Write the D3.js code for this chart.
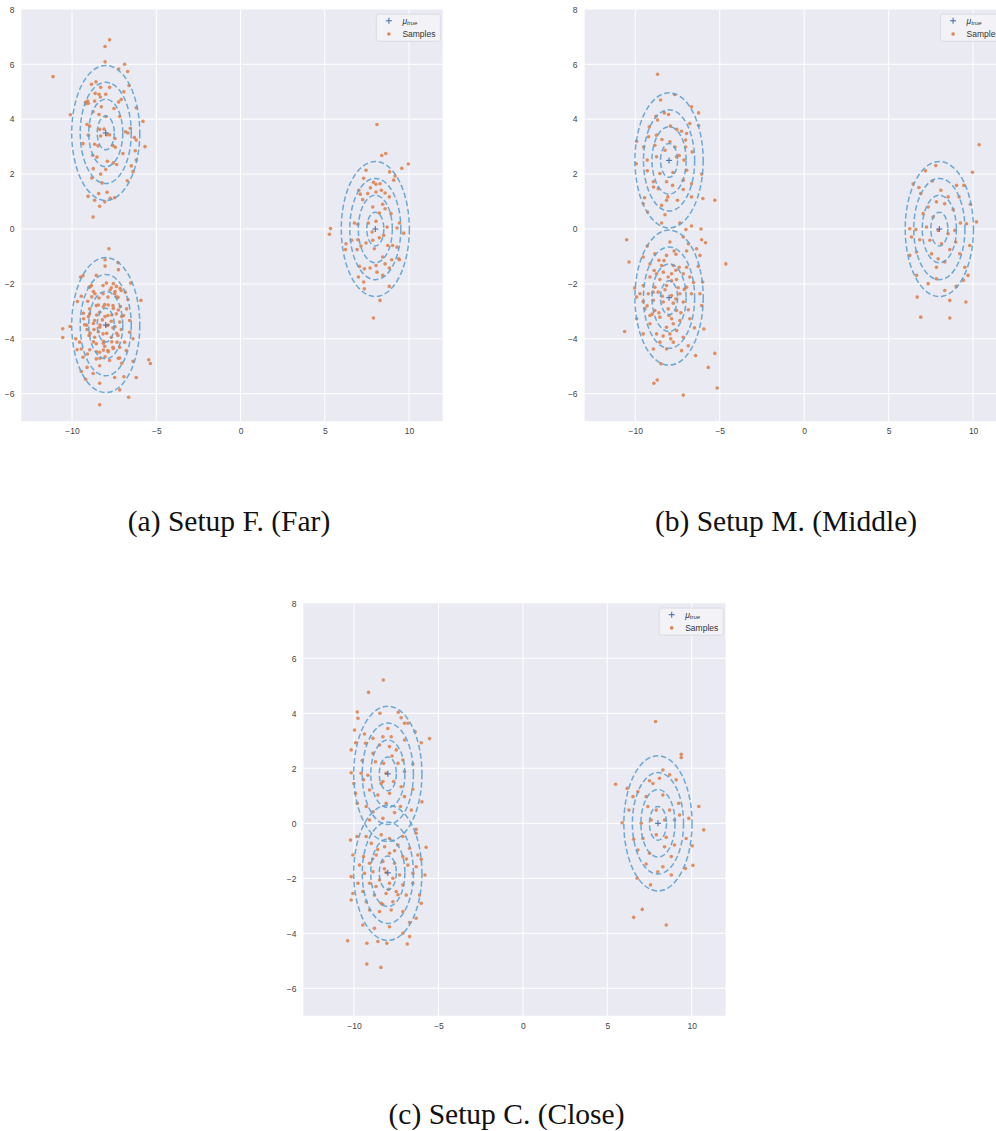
<!DOCTYPE html>
<html>
<head>
<meta charset="utf-8">
<script src="https://cdn.jsdelivr.net/npm/d3@7"></script>
<style>
  html, body { margin: 0; padding: 0; background: #ffffff; }
  svg { display: block; }
</style>
</head>
<body>
<svg id="chart" width="996" height="1131"></svg>
<script>
// ---------------- data ----------------
const xTicks = [-10, -5, 0, 5, 10];
const yTicks = [-6, -4, -2, 0, 2, 4, 6, 8];
const xDomain = [-13, 12];
const yDomain = [-7, 8];
const captions = ["(a) Setup F. (Far)", "(b) Setup M. (Middle)", "(c) Setup C. (Close)"];
const legendLabels = ["Samples"];

const meansF = [[-8, 3.5], [-8, -3.5], [8, 0]];
const meansM = [[-8, 2.5], [-8, -2.5], [8, 0]];
const meansC = [[-8, 1.8], [-8, -1.8], [8, 0]];

// contour levels (multiples of the base semi-axes, in data units)
const contourLevels = [1, 2, 3, 4];
const contourSemiX = 0.505;
const contourSemiY = 0.615;

const samplesF = [
  // upper left
  [-7.77,6.89],[-8.04,6.65],[-8.04,6.09],[-11.13,5.55],[-6.88,6.0],[-7.23,5.83],[-6.70,5.74],[-8.58,5.36],[-8.85,5.27],[-8.30,5.16],
  [-7.77,5.16],[-6.62,5.23],[-6.92,5.0],[-8.40,4.91],[-8.0,4.91],[-8.32,4.81],[-9.07,4.66],[-9.17,4.56],[-8.66,4.66],[-7.23,4.63],
  [-7.08,4.72],[-8.26,4.45],[-6.19,4.42],[-7.51,4.39],[-10.10,4.16],[-8.75,4.27],[-8.40,4.17],[-8.0,4.10],[-7.17,4.10],[-5.79,3.92],
  [-9.11,3.81],[-8.95,3.75],[-8.36,3.63],[-8.10,3.64],[-6.82,3.54],[-6.54,3.67],[-6.68,3.50],[-9.03,3.42],[-7.95,3.43],[-8.30,3.39],
  [-7.77,3.43],[-7.45,3.30],[-6.30,3.33],[-6.19,3.24],[-9.35,3.11],[-8.66,3.09],[-8.46,3.03],[-7.57,3.04],[-7.43,2.98],[-5.67,3.0],
  [-6.25,2.85],[-8.77,2.69],[-8.52,2.62],[-6.98,2.75],[-7.90,2.47],[-7.55,2.41],[-7.35,2.35],[-6.19,2.51],[-6.48,2.30],[-8.74,2.20],
  [-8.0,2.17],[-8.30,2.0],[-8.83,1.86],[-8.22,1.68],[-6.38,2.09],[-6.72,1.76],[-9.05,1.19],[-8.42,1.29],[-7.92,1.34],[-7.73,1.12],
  [-7.47,1.14],[-8.66,1.05],[-8.06,0.99],[-8.36,0.83],[-8.75,0.44],[-9.03,4.58],[-8.63,4.94],[-9.20,4.62],
  // lower left
  [-7.81,-0.72],[-8.04,-1.12],[-8.04,-1.35],[-7.27,-1.23],[-9.35,-1.70],[-9.49,-1.75],[-7.25,-1.48],[-8.56,-1.69],[-7.96,-1.97],[-7.55,-1.99],
  [-6.52,-1.97],[-8.85,-2.06],[-8.99,-2.12],[-8.16,-2.06],[-7.67,-2.14],[-7.37,-2.09],[-7.08,-2.24],[-9.45,-2.45],[-8.64,-2.36],[-8.16,-2.36],
  [-7.47,-2.36],[-6.84,-2.30],[-5.91,-2.60],[-9.68,-2.64],[-9.07,-2.63],[-8.40,-2.51],[-7.87,-2.48],[-7.27,-2.49],[-6.68,-2.57],[-8.95,-2.91],
  [-8.56,-2.79],[-8.06,-2.75],[-7.57,-2.79],[-7.13,-2.82],[-6.76,-2.91],[-8.95,-3.09],[-8.36,-3.03],[-7.87,-3.15],[-7.37,-3.09],[-6.94,-3.15],
  [-9.31,-3.27],[-8.66,-3.33],[-8.20,-3.31],[-7.67,-3.36],[-7.17,-3.39],[-6.58,-3.33],[-10.12,-3.55],[-10.55,-3.63],[-10.55,-3.95],[-9.25,-3.49],
  [-9.11,-3.66],[-8.70,-3.66],[-8.36,-3.58],[-7.96,-3.52],[-7.57,-3.60],[-7.08,-3.66],[-6.58,-3.76],[-6.38,-4.0],[-9.78,-4.0],[-9.55,-4.12],
  [-8.99,-3.88],[-8.66,-3.94],[-8.16,-3.82],[-7.67,-3.94],[-7.27,-3.88],[-8.56,-4.18],[-8.06,-4.27],[-7.57,-4.31],[-7.17,-4.31],[-6.78,-4.43],
  [-9.45,-4.37],[-8.95,-4.40],[-8.36,-4.49],[-7.87,-4.43],[-9.35,-4.67],[-8.56,-4.73],[-7.77,-4.79],[-7.17,-4.70],[-6.38,-4.82],[-5.45,-4.76],
  [-5.35,-4.90],[-9.11,-5.04],[-8.36,-4.98],[-9.45,-5.19],[-8.75,-5.26],[-7.47,-5.41],[-6.92,-5.38],[-6.19,-5.41],[-9.19,-5.47],[-8.36,-5.62],
  [-7.17,-5.86],[-6.64,-6.13],[-8.36,-6.40],[-9.09,-4.55],[-9.70,-4.40],[-6.88,-4.12],[-7.33,-4.12],[-8.12,-4.09],
  [-8.93,-2.10],[-8.73,-2.28],[-8.83,-2.47],[-7.74,-2.22],[-7.45,-2.28],[-7.15,-2.16],[-7.35,-2.47],[-8.44,-2.77],[-8.14,-2.83],[-7.85,-2.77],
  [-7.55,-2.89],[-7.25,-2.95],[-9.33,-3.07],[-9.03,-3.19],[-8.54,-3.13],[-8.04,-3.19],[-7.64,-3.13],[-7.05,-3.19],[-9.13,-3.50],[-8.73,-3.44],
  [-8.34,-3.50],[-7.85,-3.50],[-7.45,-3.56],[-8.93,-3.80],[-8.44,-3.74],[-7.94,-3.80],[-7.35,-3.80],[-8.73,-4.11],[-8.14,-4.16],[-7.64,-4.11],
  [-8.14,-4.41],[-7.85,-4.47],[-7.55,-4.35],[-8.54,-4.47],[-8.34,-4.71],[-8.04,-4.65],[-7.05,-4.89],[-7.25,-4.71],
  // right
  [8.10,3.81],[8.38,2.68],[8.62,2.75],[9.96,2.37],[9.57,2.21],[8.85,2.08],[9.17,1.93],[9.09,1.78],[7.45,2.14],[7.31,1.85],
  [7.89,1.70],[8.04,1.63],[8.28,1.65],[7.71,1.50],[8.36,1.41],[7.02,1.41],[7.11,1.27],[8.58,1.31],[7.55,1.29],[8.04,1.35],
  [7.25,1.07],[8.83,1.17],[8.44,0.90],[8.58,0.74],[7.85,0.80],[8.24,0.58],[8.93,0.56],[6.76,0.22],[6.96,0.17],[7.59,0.22],
  [8.04,0.28],[8.70,0.07],[9.29,0.04],[9.68,-0.15],[5.34,0.02],[5.28,-0.19],[7.81,-0.11],[8.24,-0.32],[8.50,-0.23],[6.26,-0.54],
  [6.60,-0.41],[6.96,-0.39],[6.23,-0.75],[7.15,-0.62],[7.45,-0.51],[7.85,-0.41],[9.03,-0.60],[9.29,-0.66],[8.74,-0.60],[6.92,-0.75],
  [7.94,-0.72],[8.44,-1.02],[8.97,-1.12],[9.39,-1.08],[7.06,-1.36],[7.35,-1.45],[7.69,-1.42],[8.04,-1.33],[8.58,-1.27],[8.83,-1.42],
  [7.00,-1.75],[8.44,-1.69],[8.10,-1.57],[7.31,-1.93],[7.35,-2.18],[8.83,-2.09],[8.28,-2.60],[7.89,-3.24],[9.43,-1.12],[9.43,0.22]
];

const samplesM = [
  // upper left
  [-8.68,5.64],[-7.67,4.90],[-8.50,4.70],[-6.67,4.45],[-6.25,4.23],[-8.28,4.23],[-8.03,4.17],[-8.78,4.11],[-8.68,3.97],[-6.77,3.84],
  [-6.25,3.77],[-9.17,3.72],[-7.92,3.75],[-7.55,3.63],[-7.26,3.56],[-6.96,3.48],[-9.21,3.36],[-8.42,3.26],[-7.95,3.18],[-7.02,3.24],
  [-9.92,3.20],[-9.51,2.99],[-8.84,3.05],[-6.63,2.81],[-8.24,2.87],[-9.94,2.38],[-9.29,2.51],[-8.74,2.63],[-7.56,2.63],[-7.40,2.68],
  [-7.12,2.51],[-7.77,2.06],[-6.96,2.14],[-6.07,2.00],[-8.54,2.02],[-9.29,2.12],[-8.93,1.72],[-8.15,1.72],[-7.79,1.59],[-7.16,1.78],
  [-6.67,1.65],[-7.16,1.44],[-8.64,1.47],[-8.07,1.17],[-9.45,1.14],[-9.53,0.92],[-8.15,1.05],[-7.50,1.05],[-8.44,0.86],[-6.67,1.17],
  [-6.0,1.11],[-5.29,1.05],[-9.27,0.62],[-8.24,0.52],[-8.44,0.22],[-7.36,0.22],[-8.92,1.53],[-7.02,2.99],[-8.74,3.42],[-7.65,2.99],
  // lower left
  [-7.0,-0.02],[-6.67,0.11],[-6.11,0.0],[-10.51,-0.39],[-6.07,-0.39],[-5.84,-0.50],[-7.16,-0.29],[-6.86,-0.54],[-7.95,-0.47],[-6.37,-0.72],
  [-9.29,-0.62],[-10.37,-1.20],[-4.64,-1.27],[-6.96,-0.80],[-8.84,-0.90],[-8.15,-0.96],[-7.59,-0.92],[-6.17,-0.96],[-9.53,-1.02],[-8.60,-1.14],
  [-9.13,-1.27],[-7.75,-1.33],[-7.40,-1.39],[-6.96,-1.39],[-6.27,-1.36],[-8.88,-1.51],[-8.34,-1.57],[-7.85,-1.63],[-7.16,-1.63],[-6.77,-1.75],
  [-9.13,-1.75],[-8.54,-1.84],[-7.56,-1.84],[-6.01,-1.93],[-9.53,-2.06],[-8.84,-2.12],[-8.15,-2.06],[-7.46,-2.14],[-6.96,-2.12],[-10.04,-2.15],
  [-9.72,-2.36],[-9.23,-2.36],[-8.64,-2.30],[-7.85,-2.42],[-7.36,-2.36],[-6.67,-2.36],[-6.17,-2.36],[-9.92,-2.48],[-9.53,-2.64],[-8.93,-2.60],
  [-8.34,-2.66],[-7.75,-2.70],[-7.16,-2.66],[-6.07,-2.79],[-9.43,-2.91],[-8.84,-2.97],[-8.05,-2.91],[-7.56,-2.97],[-6.86,-2.94],[-9.92,-3.27],
  [-9.13,-3.15],[-8.54,-3.21],[-7.85,-3.27],[-7.36,-3.33],[-6.77,-3.27],[-9.13,-3.45],[-8.15,-3.58],[-7.75,-3.45],[-5.94,-3.64],[-10.63,-3.73],
  [-9.53,-3.82],[-8.74,-3.82],[-7.95,-3.82],[-7.16,-3.94],[-8.54,-4.12],[-7.75,-4.12],[-6.86,-4.25],[-8.93,-4.37],[-8.15,-4.37],[-7.26,-4.43],
  [-6.43,-4.61],[-5.29,-4.53],[-8.48,-4.91],[-5.68,-5.04],[-8.70,-5.50],[-8.90,-5.62],[-5.15,-5.79],[-7.16,-6.05],[-8.24,-2.21],[-7.85,-1.89],
  [-8.74,-1.63],[-8.44,-1.33],[-7.60,-1.50],[-8.05,-1.75],[-8.40,-2.45],[-7.60,-2.55],[-8.95,-2.30],[-7.30,-3.05],[-8.60,-3.05],[-8.00,-3.15],
  [-7.55,-3.70],[-8.35,-3.90],[-9.00,-3.10],[-7.10,-2.20],[-6.55,-1.95],[-8.30,-1.15],[-7.70,-0.80],[-9.30,-2.80],[-6.50,-3.60],[-7.90,-4.00],
  // right
  [10.36,3.07],[9.96,2.07],[7.79,2.31],[7.18,2.12],[6.45,1.65],[9.45,1.59],[6.79,1.51],[7.59,1.75],[8.09,1.41],[8.52,1.17],
  [7.83,0.99],[8.32,0.92],[9.17,1.17],[9.84,0.90],[7.34,0.80],[7.04,0.56],[7.63,0.44],[8.82,0.71],[9.25,0.22],[9.61,0.19],
  [10.20,0.26],[6.25,0.01],[6.61,-0.02],[7.24,0.07],[7.93,-0.05],[8.52,-0.17],[8.92,-0.05],[6.35,-0.29],[6.84,-0.39],[7.44,-0.41],
  [8.13,-0.54],[8.97,-0.47],[9.80,-0.60],[6.25,-0.96],[6.65,-0.84],[7.54,-0.90],[7.93,-1.08],[8.62,-0.75],[9.21,-0.90],[8.32,-1.20],
  [7.83,-1.39],[9.51,-1.39],[9.70,-1.69],[6.65,-1.69],[7.34,-1.99],[7.83,-1.81],[8.32,-2.24],[9.0,-2.09],[9.43,-1.87],[6.69,-2.48],
  [8.62,-2.60],[9.57,-2.66],[6.90,-3.21],[8.62,-3.24],[6.90,1.29],[9.02,1.59]
];

const samplesC = [
  // upper left
  [-8.27,5.21],[-9.14,4.76],[-9.81,4.05],[-9.77,3.82],[-8.47,4.0],[-7.38,4.04],[-7.21,3.84],[-7.01,3.64],[-6.81,3.64],[-5.53,3.08],
  [-9.97,3.39],[-6.38,3.33],[-9.38,3.25],[-8.0,3.45],[-8.88,3.09],[-8.29,3.15],[-7.80,3.15],[-7.01,3.03],[-6.02,2.93],[-10.17,2.67],
  [-9.91,2.93],[-9.32,2.91],[-8.49,2.85],[-7.90,2.79],[-7.50,2.67],[-8.88,2.55],[-7.11,2.30],[-6.52,2.16],[-9.52,2.28],[-8.73,2.24],
  [-8.25,2.18],[-7.40,2.18],[-10.17,1.84],[-9.58,1.82],[-9.18,1.75],[-8.10,1.82],[-7.01,1.88],[-10.01,1.45],[-9.44,1.58],[-8.29,1.52],
  [-7.66,1.52],[-7.21,1.33],[-6.52,1.24],[-9.91,1.09],[-9.08,1.21],[-8.59,1.03],[-7.90,1.09],[-7.01,0.97],[-5.98,0.78],[-9.81,0.73],
  [-9.28,0.61],[-8.10,0.73],[-7.25,0.61],[-6.61,0.48],[-8.88,0.42],[-7.60,0.39],[-9.08,0.12],[-8.29,0.18],[-8.40,1.45],[-7.75,2.45],
  // lower left
  [-6.32,-0.22],[-6.32,-0.36],[-9.83,-0.48],[-10.21,-0.61],[-9.28,-0.48],[-8.39,-0.42],[-7.90,-0.55],[-7.11,-0.48],[-5.73,-0.87],[-8.98,-0.73],
  [-8.19,-0.85],[-7.40,-0.79],[-6.71,-0.91],[-10.07,-1.15],[-9.44,-1.21],[-8.69,-1.15],[-7.90,-1.09],[-7.11,-1.21],[-6.22,-1.15],[-6.02,-1.31],
  [-9.68,-1.52],[-9.08,-1.45],[-8.29,-1.39],[-7.60,-1.45],[-6.81,-1.52],[-6.32,-1.58],[-10.17,-1.94],[-9.38,-1.82],[-8.88,-1.76],[-8.10,-1.79],
  [-7.30,-1.88],[-6.52,-1.82],[-5.80,-1.88],[-9.77,-2.18],[-9.08,-2.18],[-8.49,-2.06],[-7.90,-2.18],[-7.11,-2.24],[-6.52,-2.18],[-10.07,-2.55],
  [-9.48,-2.48],[-8.79,-2.61],[-8.10,-2.55],[-7.50,-2.48],[-6.91,-2.61],[-6.12,-2.61],[-10.17,-2.79],[-9.28,-2.85],[-8.39,-2.91],[-7.70,-2.85],
  [-6.02,-2.91],[-9.08,-3.15],[-8.49,-3.21],[-7.80,-3.15],[-7.11,-3.21],[-9.48,-3.70],[-8.79,-3.82],[-7.90,-3.76],[-7.11,-4.0],[-6.71,-4.12],
  [-10.38,-4.27],[-9.24,-4.36],[-8.59,-4.30],[-8.06,-4.36],[-6.85,-4.39],[-9.24,-5.12],[-8.41,-5.24],[-6.32,-3.45],[-6.71,-3.61],
  [-8.60,-0.95],[-7.60,-1.00],[-8.20,-1.65],[-7.70,-2.00],[-8.70,-2.30],[-7.40,-2.60],[-8.90,-1.30],[-6.90,-1.30],[-7.95,-2.40],[-8.30,-2.95],
  // right
  [7.86,3.70],[9.38,2.51],[9.38,2.39],[8.29,1.94],[8.69,1.76],[5.49,1.42],[6.18,1.27],[6.81,1.15],[7.50,1.55],[7.70,1.45],
  [8.09,1.64],[9.08,1.58],[6.52,0.97],[7.30,0.97],[8.29,1.03],[9.23,0.73],[10.42,0.61],[6.28,0.48],[7.40,0.61],[7.90,0.48],
  [8.69,0.48],[9.28,0.30],[5.88,0.02],[7.01,0.0],[7.60,0.12],[8.39,0.12],[8.98,0.12],[9.83,0.18],[10.71,-0.24],[6.56,-0.58],
  [7.11,-0.55],[7.90,-0.42],[8.49,-0.51],[8.98,-0.79],[9.67,-0.55],[10.03,-0.82],[6.81,-0.97],[7.50,-1.09],[8.39,-0.85],[10.07,-1.53],
  [7.30,-1.48],[8.29,-1.58],[8.79,-1.21],[9.63,-1.64],[6.77,-2.0],[7.56,-2.24],[8.79,-1.88],[6.56,-3.42],[7.07,-3.13],[8.49,-3.70],[7.99,-1.76]
];

const panelData = [
  { caption: captions[0], means: meansF, samples: samplesF },
  { caption: captions[1], means: meansM, samples: samplesM },
  { caption: captions[2], means: meansC, samples: samplesC }
];

// ---------------- layout / style ----------------
const layout = [
  { left: 21.5,  right: 442.7,  top: 9.4,   bottom: 421.2,  capX: 229,   capY: 531 },
  { left: 584.6, right: 1006.9, top: 9.4,   bottom: 421.2,  capX: 786,   capY: 531 },
  { left: 303.4, right: 725.5,  top: 603.3, bottom: 1015.8, capX: 506.5, capY: 1124 }
];

const BG = "#EAEAF2";
const SAMPLE = "#DD8452";
const MEAN = "#4C72B0";
const CONTOUR = "#5EA1CF";
const TICKFONT = "'Liberation Sans', Arial, sans-serif";

const svg = d3.select("#chart");

panelData.forEach((pd, i) => {
  const L = layout[i];
  const x = d3.scaleLinear().domain(xDomain).range([L.left, L.right]);
  const y = d3.scaleLinear().domain(yDomain).range([L.bottom, L.top]);
  const g = svg.append("g");

  g.append("rect")
    .attr("x", L.left).attr("y", L.top)
    .attr("width", L.right - L.left).attr("height", L.bottom - L.top)
    .attr("fill", BG);

  // axes (for tick labels), grid lines
  const xAxis = d3.axisBottom(x).tickValues(xTicks).tickSize(0).tickPadding(7)
    .tickFormat(d => d3.format("d")(d).replace("-", "\u2212"));
  const yAxis = d3.axisLeft(y).tickValues(yTicks).tickSize(0).tickPadding(7)
    .tickFormat(d => d3.format("d")(d).replace("-", "\u2212"));

  const gx = g.append("g").attr("transform", `translate(0,${L.bottom})`).call(xAxis);
  const gy = g.append("g").attr("transform", `translate(${L.left},0)`).call(yAxis);
  [gx, gy].forEach(a => {
    a.select(".domain").remove();
    a.selectAll("text").attr("font-family", TICKFONT).attr("font-size", 8.5).attr("fill", "#444");
  });

  const grid = g.append("g").attr("stroke", "#ffffff").attr("stroke-width", 1);
  grid.selectAll("line.vx").data(xTicks).join("line")
    .attr("x1", d => x(d)).attr("x2", d => x(d))
    .attr("y1", L.top).attr("y2", L.bottom);
  grid.selectAll("line.hy").data(yTicks.filter(d => d < yDomain[1])).join("line")
    .attr("x1", L.left).attr("x2", L.right)
    .attr("y1", d => y(d)).attr("y2", d => y(d));

  // samples
  g.append("g").selectAll("circle").data(pd.samples).join("circle")
    .attr("cx", d => x(d[0])).attr("cy", d => y(d[1]))
    .attr("r", 1.8)
    .attr("fill", SAMPLE).attr("fill-opacity", 0.9);

  // contours
  const cg = g.append("g").attr("fill", "none").attr("stroke", CONTOUR)
    .attr("stroke-width", 1.5).attr("stroke-dasharray", "5.5,2.8").attr("stroke-opacity", 0.9);
  pd.means.forEach(m => {
    contourLevels.forEach(k => {
      cg.append("ellipse")
        .attr("cx", x(m[0])).attr("cy", y(m[1]))
        .attr("rx", x(m[0] + k * contourSemiX) - x(m[0]))
        .attr("ry", y(m[1]) - y(m[1] + k * contourSemiY));
    });
  });

  // means
  const mg = g.append("g").attr("stroke", MEAN).attr("stroke-width", 1.1);
  pd.means.forEach(m => {
    const cx = x(m[0]), cy = y(m[1]);
    mg.append("line").attr("x1", cx - 3).attr("x2", cx + 3).attr("y1", cy).attr("y2", cy);
    mg.append("line").attr("x1", cx).attr("x2", cx).attr("y1", cy - 3).attr("y2", cy + 3);
  });

  // legend
  const lw = 64, lh = 27;
  const lx = L.right - lw - 2.3, ly = L.top + 4.8;
  const lg = g.append("g");
  lg.append("rect").attr("x", lx).attr("y", ly).attr("width", lw).attr("height", lh)
    .attr("rx", 2).attr("fill", "#F4F4F8").attr("fill-opacity", 0.85)
    .attr("stroke", "#D6D6DE").attr("stroke-width", 0.8);
  const mx = lx + 12.5, my1 = ly + 6.6, my2 = ly + 19.8;
  lg.append("line").attr("x1", mx - 3).attr("x2", mx + 3).attr("y1", my1).attr("y2", my1)
    .attr("stroke", MEAN).attr("stroke-width", 1.1);
  lg.append("line").attr("x1", mx).attr("x2", mx).attr("y1", my1 - 3).attr("y2", my1 + 3)
    .attr("stroke", MEAN).attr("stroke-width", 1.1);
  lg.append("circle").attr("cx", mx).attr("cy", my2).attr("r", 1.8).attr("fill", SAMPLE);
  const t1 = lg.append("text").attr("x", lx + 26).attr("y", my1 + 3)
    .attr("font-family", TICKFONT).attr("font-size", 8.5).attr("fill", "#333");
  t1.append("tspan").attr("font-style", "italic").text("\u03BC");
  t1.append("tspan").attr("font-style", "italic").attr("font-size", 6).attr("dy", 1.5).text("true");
  lg.append("text").attr("x", lx + 26).attr("y", my2 + 3)
    .attr("font-family", TICKFONT).attr("font-size", 8.5).attr("fill", "#333")
    .text(legendLabels[0]);

  // caption
  svg.append("text")
    .attr("x", L.capX).attr("y", L.capY)
    .attr("text-anchor", "middle")
    .attr("font-family", "'Liberation Serif', 'Times New Roman', serif")
    .attr("font-size", 29.5)
    .attr("fill", "#111")
    .text(pd.caption);
});
</script>
</body>
</html>
